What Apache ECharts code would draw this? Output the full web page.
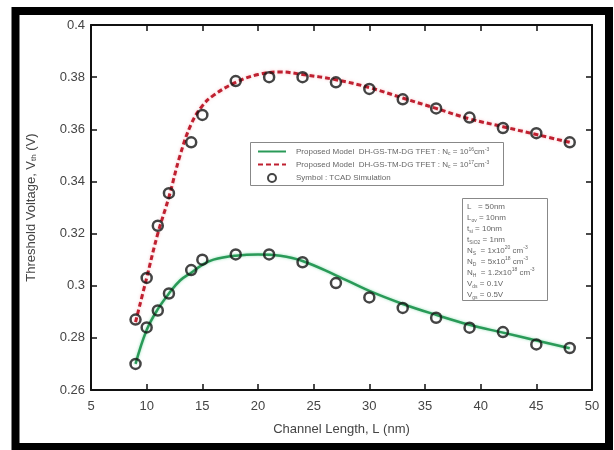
<!DOCTYPE html>
<html>
<head>
<meta charset="utf-8">
<script src="https://cdn.jsdelivr.net/npm/echarts@6/dist/echarts.min.js"></script>
<style>
  html, body { margin: 0; padding: 0; background: #fff; }
  #chart { width: 614px; height: 450px; }
</style>
</head>
<body>
<div id="chart"></div>
<script>
// model curves (smooth lines)
const curveL = [9, 10, 11, 12, 13, 14, 15, 16, 18, 20, 22, 24, 27, 30, 33, 36, 39, 42, 45, 48];
const modelLow = [0.270, 0.283, 0.291, 0.297, 0.302, 0.305, 0.308, 0.310, 0.3115, 0.312, 0.3115, 0.3095, 0.304, 0.298, 0.293, 0.2888, 0.285, 0.282, 0.279, 0.276];
const modelHigh = [0.286, 0.303, 0.320, 0.334, 0.350, 0.362, 0.369, 0.373, 0.378, 0.381, 0.382, 0.381, 0.379, 0.376, 0.372, 0.368, 0.364, 0.361, 0.358, 0.355];

// TCAD simulation points
const tcadL = [9, 10, 11, 12, 14, 15, 18, 21, 24, 27, 30, 33, 36, 39, 42, 45, 48];
const tcadLow = [0.270, 0.284, 0.2905, 0.297, 0.306, 0.310, 0.312, 0.312, 0.309, 0.301, 0.2955, 0.2915, 0.2877, 0.2839, 0.2822, 0.2775, 0.2761];
const tcadHigh = [0.287, 0.303, 0.323, 0.3355, 0.355, 0.3655, 0.3785, 0.380, 0.380, 0.378, 0.3755, 0.3715, 0.368, 0.3645, 0.3605, 0.3585, 0.355];

const paramLines = [
  'L   = 50nm',
  'L{sub|ov} = 10nm',
  't{sub|si} = 10nm',
  't{sub|SiO2} = 1nm',
  'N{sub|S}  = 1x10{sup|20} cm{sup|-3}',
  'N{sub|D}  = 5x10{sup|18} cm{sup|-3}',
  'N{sub|H}  = 1.2x10{sup|18} cm{sup|-3}',
  'V{sub|ds} = 0.1V',
  'V{sub|gs} = 0.5V'
];

const nameLow = 'Proposed Model  DH-GS-TM-DG TFET : N{sub|c} = 10{sup|16}cm{sup|-3}';
const nameHigh = 'Proposed Model  DH-GS-TM-DG TFET : N{sub|c} = 10{sup|17}cm{sup|-3}';
const nameTcad = 'Symbol : TCAD Simulation';

const pairs = (xs, ys) => xs.map((x, i) => [x, ys[i]]);
const FONT = '"Liberation Sans", Arial, sans-serif';
const smallRich = {
  sub: { fontSize: 5, verticalAlign: 'bottom', padding: [4, 0, 0, 0], color: '#666', fontFamily: FONT },
  sup: { fontSize: 5, verticalAlign: 'top', padding: [0, 0, 4, 0], color: '#666', fontFamily: FONT }
};

const chart = echarts.init(document.getElementById('chart'));

const tickStyle = { show: true, inside: true, length: 6, lineStyle: { color: '#111', width: 1.5 } };
const axisLine = { show: true, lineStyle: { color: '#111', width: 2 } };

chart.setOption({
  animation: false,
  backgroundColor: '#fff',
  grid: { left: 91, right: 22, top: 25, bottom: 60, containLabel: false },
  xAxis: [{
    type: 'value', min: 5, max: 50, interval: 5, position: 'bottom',
    name: 'Channel Length, L (nm)', nameLocation: 'middle', nameGap: 33,
    nameTextStyle: { fontSize: 13, color: '#444', fontFamily: FONT },
    axisLine: axisLine, axisTick: tickStyle,
    axisLabel: { fontSize: 13, color: '#444', margin: 10, fontFamily: FONT },
    splitLine: { show: false }
  }, {
    type: 'value', min: 5, max: 50, interval: 5, position: 'top',
    axisLine: axisLine, axisTick: tickStyle, axisLabel: { show: false }, splitLine: { show: false }
  }],
  yAxis: [{
    type: 'value', min: 0.26, max: 0.4, interval: 0.02, position: 'left',
    name: 'Threshold Voltage, V{sub|th} (V)', nameLocation: 'middle', nameGap: 53,
    nameTextStyle: {
      fontSize: 13, color: '#444', fontFamily: FONT,
      rich: { sub: { fontSize: 8, color: '#444', verticalAlign: 'bottom', padding: [6, 0, 0, 0] } }
    },
    axisLine: axisLine, axisTick: tickStyle,
    axisLabel: { fontSize: 13, color: '#444', margin: 6, fontFamily: FONT, formatter: v => String(+v.toFixed(2)) },
    splitLine: { show: false }
  }, {
    type: 'value', min: 0.26, max: 0.4, interval: 0.02, position: 'right',
    axisLine: axisLine, axisTick: tickStyle, axisLabel: { show: false }, splitLine: { show: false }
  }],
  legend: {
    orient: 'vertical', left: 257, top: 147, padding: 0,
    itemWidth: 28, itemHeight: 8, itemGap: 4,
    data: [
      { name: nameLow, itemStyle: { opacity: 0 } },
      { name: nameHigh, itemStyle: { opacity: 0 } },
      nameTcad
    ],
    textStyle: { fontSize: 8, color: '#666', fontFamily: FONT, padding: [0, 0, 0, 5], rich: smallRich }
  },
  series: [{
    name: nameLow, type: 'line', smooth: 0.4, symbol: 'none',
    data: pairs(curveL, modelLow),
    lineStyle: { color: '#2a9a58', width: 2.5, shadowColor: 'rgba(70,200,130,0.55)', shadowBlur: 3 },
    itemStyle: { color: '#2a9a58' }, z: 2
  }, {
    name: nameHigh, type: 'line', smooth: 0.4, symbol: 'none',
    data: pairs(curveL, modelHigh),
    lineStyle: { color: '#bf2030', width: 3, type: [5, 3], shadowColor: 'rgba(240,120,130,0.5)', shadowBlur: 3 },
    itemStyle: { color: '#bf2030' }, z: 2
  }, {
    name: nameTcad, type: 'scatter', symbol: 'circle', symbolSize: 10,
    data: pairs(tcadL, tcadLow),
    itemStyle: { color: 'rgba(255,255,255,0)', borderColor: '#151515', borderWidth: 2.5 }, z: 3
  }, {
    name: nameTcad, type: 'scatter', symbol: 'circle', symbolSize: 10,
    data: pairs(tcadL, tcadHigh),
    itemStyle: { color: 'rgba(255,255,255,0)', borderColor: '#151515', borderWidth: 2.5 }, z: 3
  }],
  graphic: [
    // outer thick frame
    { type: 'rect', silent: true, z: 100,
      shape: { x: 15.5, y: 11, width: 593.5, height: 436 },
      style: { fill: 'none', stroke: '#000', lineWidth: 8 } },
    // legend box
    { type: 'rect', silent: true, z: 1,
      shape: { x: 250.5, y: 142.5, width: 253, height: 43 },
      style: { fill: 'none', stroke: '#888', lineWidth: 1 } },
    // parameter box
    { type: 'rect', silent: true, z: 1,
      shape: { x: 462.5, y: 198.5, width: 85, height: 102 },
      style: { fill: '#fff', stroke: '#888', lineWidth: 1 } },
    { type: 'text', silent: true, z: 2, x: 467, y: 201,
      style: {
        text: paramLines.join('\n'), fontSize: 8, lineHeight: 11, fill: '#666',
        fontFamily: FONT, rich: Object.assign({ '': {} }, smallRich)
      } }
  ]
});
</script>
</body>
</html>
